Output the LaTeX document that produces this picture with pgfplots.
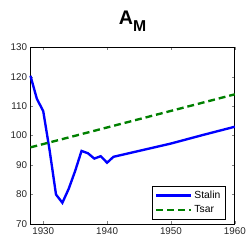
\documentclass[border=0pt]{standalone}
\usepackage{pgfplots}
\pgfplotsset{compat=1.18}
\usepackage{fontspec}
\setmainfont{Liberation Sans}
\begin{document}
\begin{tikzpicture}[x=1pt,y=1pt]
\path (0,0) rectangle (249,244);
\begin{axis}[
  at={(31pt,16pt)}, anchor=south west,
  scale only axis, width=208pt, height=180pt,
  xmin=1928, xmax=1960, ymin=70, ymax=130,
  xtick={1930,1940,1950,1960}, ytick={70,80,...,130},
  tick align=inside, tick pos=both,
  major tick length=3pt,
  xticklabel style={/pgf/number format/1000 sep={}},
  /pgf/number format/assume math mode=true,
  ticklabel style={font=\fontsize{10}{11}\selectfont, text=black!85},
  axis line style={line width=0.9pt},
  title={\textbf{A}\raisebox{-0.4em}{\fontsize{16}{16}\selectfont\textbf{M}}},
  title style={font=\fontsize{20}{20}\selectfont, yshift=6pt},
  legend style={at={(0.955,0.025)}, anchor=south east, draw=black, line width=0.8pt,
    font=\fontsize{10.5}{12}\selectfont, row sep=2pt, inner sep=3pt},
  legend cell align=left,
  legend image post style={line width=2.4pt},
  legend image code/.code={\draw[#1] (0cm,0cm) -- (1.25cm,0cm);},
  clip=false,
]
\addplot[blue, line width=2.4pt] coordinates {
(1928,120.3) (1929,112.5) (1930,108.3) (1931,95) (1932,80) (1933,77.2) (1934,82) (1935,88)
(1936,94.8) (1937,94) (1938,92.2) (1939,93) (1940,90.8) (1941,92.8) (1945,94.8) (1950,97.3) (1955,100.2) (1960,103)
};
\addlegendentry{Stalin}
\addplot[green!50!black, line width=2.4pt, dash pattern=on 7pt off 4pt] coordinates {
(1928,96) (1960,114)
};
\addlegendentry{Tsar}
\end{axis}
\end{tikzpicture}
\end{document}
